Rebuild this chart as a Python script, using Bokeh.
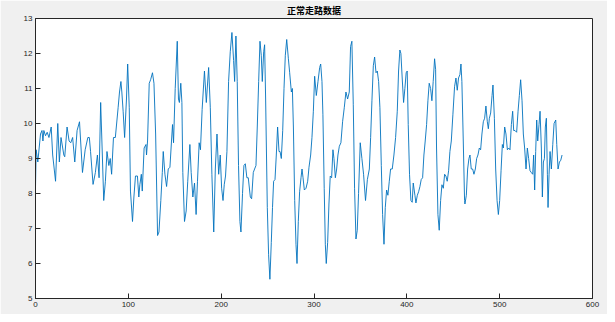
from bokeh.plotting import figure
from bokeh.models import Range1d, FixedTicker
from bokeh.embed import file_html
from bokeh.resources import INLINE

title_text = "正常走路数据"
x_ticks = [0, 100, 200, 300, 400, 500, 600]
y_ticks = [5, 6, 7, 8, 9, 10, 11, 12, 13]

sample_x = [
    0, 0.7, 2.5, 5.4, 7, 8, 9, 10.8, 12.6, 14.5, 16.9, 18.5, 21.6, 24, 25.7, 27.5, 30.5, 31.5, 34, 36.2,
    38, 40, 42.3, 44.8, 47.4, 50.6, 53.5, 56.4, 58, 59.3, 62, 64.5, 66.7, 68.5, 70.2, 72, 73.5, 75.3, 77, 79,
    80.5, 82, 84, 86, 89, 90.5, 92, 93, 94.4, 96, 98, 99.3, 101, 102.3, 104.5, 106, 107.7, 109.8, 111.3, 112.4,
    114, 115, 117, 119, 119.6, 120.7, 122.5, 124, 126, 127.6, 129.4, 131.5, 133, 135, 136.6, 137.6, 139.4, 141.2, 143, 144.8,
    146.5, 147.6, 148.7, 150.5, 152.7, 154, 155, 156.5, 157.7, 158.7, 160.5, 162.3, 164, 166.3, 167.7, 169.5, 171.3, 173, 174.5, 176.3,
    177.7, 179.5, 182, 184, 186.5, 188.3, 190, 192, 193.7, 195.5, 197.3, 199, 200.5, 202, 203.3, 204.7, 206.2, 208, 209.8, 211.6,
    213.4, 214.5, 215.9, 217.3, 218.7, 220.2, 221.3, 223, 224.5, 226, 227.7, 229.2, 231.4, 232.8, 234.6, 236, 237.5, 238.9, 240.4, 241.8,
    243.2, 244.3, 245.8, 246.8, 247.9, 249.7, 251.1, 252.5, 254, 255.3, 256.5, 258, 259.4, 260.8, 262.3, 263.4, 264.8, 266.3, 267.7, 269.1,
    270.6, 272.4, 273.8, 275.6, 276.7, 277.8, 279.2, 280.6, 281.7, 283.1, 284.5, 286, 287.1, 288.2, 289.6, 291.4, 293.2, 294.6, 296.4, 297.8,
    299.3, 300.7, 302.5, 304.3, 306.1, 307.2, 308.6, 309.6, 311, 312.2, 313.2, 314.7, 316.1, 317.5, 319, 320.4, 321.5, 323, 324.4, 325.8,
    327.3, 329, 330.8, 332.6, 334.4, 336.2, 338, 339.4, 340.8, 342.3, 343.7, 345.2, 346.6, 348, 349.8, 351.6, 353.4, 355.5, 357.5, 359.6,
    361, 362.4, 363.9, 365.3, 366.8, 368.2, 369.6, 371, 372.5, 373.9, 375.4, 376.8, 378.2, 379.6, 381.1, 382.5, 384.3, 386.1, 387.9, 389.7,
    391.1, 392.5, 393.6, 395, 396.5, 397.9, 399.3, 400.4, 401.5, 402.9, 404.4, 405.8, 406.9, 408.7, 409.8, 411.3, 412.7, 414.1, 415.5, 417,
    418.4, 419.8, 421.3, 422.7, 424.1, 425.6, 427, 428.4, 429.9, 431, 432, 433.5, 434.9, 436.4, 437.8, 439.3, 440.7, 442.1, 443.5, 445,
    446.4, 447.9, 449.6, 451.4, 452.9, 454.3, 455.7, 457.2, 458.3, 459.3, 460.8, 462.2, 462.6, 464.1, 465.5, 466.9, 468, 469.4, 470.9, 472.3,
    473.8, 475.2, 476.6, 478.1, 479.5, 480.9, 482.4, 483.8, 485.2, 486.7, 487.8, 488.9, 490.3, 491.8, 492.8, 494.3, 495.7, 497.2, 498.6, 500,
    501.5, 502.9, 504, 505.4, 506.8, 508.3, 509.7, 511.1, 512.6, 514, 515.1, 516.5, 518.3, 519.8, 521.2, 522.6, 524.1, 525.5, 526.9, 528.4,
    529.8, 531.2, 532.7, 534.1, 535.6, 536.6, 537.7, 538.8, 539.9, 541, 542.4, 543.5, 544.9, 546, 547.1, 548.2, 549.2, 550.3, 551.4, 552.1,
    553.2, 554.3, 555.7, 557.2, 558.6, 560.4, 561.5, 562.9, 564.4, 565.8, 567.2,
]
sample_y = [
    8.2, 9.25, 8.9, 9.7, 9.8, 9.5, 9.8, 9.65, 9.75, 9.6, 9.9, 9.1, 8.35, 10.0, 8.9, 9.6, 9.1, 9.05, 9.9, 9.5,
    9.45, 9.6, 8.9, 9.8, 10.05, 8.6, 9.25, 9.6, 9.6, 9.2, 8.26, 8.6, 9.1, 8.45, 10.6, 9.1, 7.8, 8.35, 9.2, 8.8,
    9.0, 8.55, 9.6, 9.6, 10.45, 10.9, 11.2, 10.9, 10.35, 9.6, 10.7, 11.7, 10.45, 8.07, 7.2, 7.9, 8.5, 8.5, 7.9, 8.25,
    8.55, 8.07, 9.3, 9.4, 9.1, 9.5, 11.15, 11.25, 11.45, 11.15, 9.7, 6.8, 6.9, 7.8, 8.6, 9.2, 8.55, 8.2, 8.7, 8.75,
    9.5, 9.97, 9.45, 11.0, 12.35, 10.7, 10.6, 11.15, 10.6, 8.6, 7.2, 7.5, 8.35, 9.4, 8.6, 7.9, 8.3, 7.4, 8.35, 9.45,
    9.25, 10.4, 11.5, 10.6, 11.6, 10.45, 8.55, 6.9, 8.7, 9.7, 8.55, 9.1, 8.15, 7.8, 8.25, 8.5, 9.2, 11.2, 12.05, 12.6,
    11.8, 11.2, 12.5, 11.2, 8.8, 7.2, 6.9, 8.0, 8.8, 8.85, 8.45, 8.45, 7.9, 7.85, 8.6, 8.7, 8.8, 9.9, 11.2, 12.35,
    11.95, 11.2, 12.05, 12.25, 10.7, 7.6, 6.25, 5.55, 6.6, 7.6, 8.35, 8.4, 9.1, 9.9, 9.2, 9.2, 9.0, 9.8, 11.0, 11.95,
    12.4, 11.85, 11.45, 10.9, 11.0, 9.9, 7.8, 6.55, 6.0, 7.2, 8.05, 8.45, 8.7, 8.45, 8.1, 8.15, 8.35, 8.75, 9.1, 9.6,
    10.35, 11.35, 10.8, 11.2, 11.6, 11.7, 11.2, 10.25, 8.15, 6.55, 6.0, 6.6, 7.7, 8.5, 8.45, 9.25, 9.0, 8.45, 8.7, 9.1,
    9.35, 9.45, 10.05, 10.45, 10.9, 10.7, 10.9, 12.2, 12.35, 10.55, 8.15, 6.7, 6.95, 8.0, 9.45, 9.0, 8.55, 7.8, 8.4, 8.7,
    9.6, 10.65, 11.65, 11.9, 11.45, 11.5, 11.2, 10.45, 8.8, 7.4, 6.55, 7.6, 8.1, 7.95, 8.35, 8.7, 8.7, 9.1, 9.6, 10.35,
    11.5, 12.1, 12.0, 11.3, 10.6, 11.0, 11.45, 11.5, 9.97, 8.55, 7.8, 7.75, 8.3, 7.95, 7.73, 7.95, 8.05, 8.2, 8.4, 8.45,
    9.1, 9.5, 9.97, 10.65, 11.15, 11.0, 10.65, 11.2, 11.85, 11.55, 9.3, 7.4, 6.95, 7.8, 8.25, 8.15, 8.55, 8.5, 8.35, 8.65,
    9.2, 9.5, 10.25, 11.05, 11.3, 10.95, 11.3, 11.4, 11.7, 11.2, 9.5, 7.8, 7.7, 7.95, 8.7, 9.0, 9.1, 8.7, 8.7, 8.55,
    8.7, 9.0, 9.1, 9.3, 9.25, 9.7, 10.05, 10.15, 10.5, 10.05, 9.85, 10.15, 10.3, 10.8, 11.1, 10.15, 8.7, 7.8, 7.4, 7.8,
    8.65, 9.4, 9.3, 9.9, 9.7, 9.25, 9.3, 9.25, 9.97, 10.35, 9.8, 9.8, 9.75, 10.35, 10.8, 11.25, 10.65, 9.7, 9.3, 8.7,
    9.3, 9.0, 8.65, 8.6, 8.55, 9.1, 8.1, 9.2, 10.1, 9.5, 9.97, 10.35, 9.3, 7.9, 8.9, 9.0, 9.9, 10.15, 8.55, 7.6,
    8.55, 9.2, 8.7, 9.4, 10.0, 10.1, 9.4, 8.7, 8.9, 8.95, 9.1,
]

AX = "#262626"

p = figure(width=607, height=314, x_range=Range1d(0, 600), y_range=Range1d(5, 13),
           output_backend="svg", toolbar_location=None, title=title_text,
           min_border_left=35, min_border_right=15, min_border_top=18, min_border_bottom=16)
p.title.align = "center"
p.title.text_font = "Noto Sans CJK SC"
p.title.text_font_size = "9px"
p.title.text_font_style = "bold"
p.title.text_color = "black"
p.title.standoff = 3
p.title.offset = 0

p.border_fill_color = "#f0f0f0"
p.background_fill_color = "white"
p.outline_line_color = AX
p.outline_line_width = 1
p.grid.visible = False

p.xaxis.ticker = FixedTicker(ticks=x_ticks)
p.yaxis.ticker = FixedTicker(ticks=y_ticks)
for ax in (p.xaxis, p.yaxis):
    ax.axis_line_color = AX
    ax.major_tick_line_color = AX
    ax.major_tick_in = 5
    ax.major_tick_out = 0
    ax.minor_tick_in = 0
    ax.minor_tick_out = 0
    ax.major_label_text_font = "Liberation Sans"
    ax.major_label_text_font_size = "8px"
    ax.major_label_text_color = AX
    ax.major_label_standoff = 3

p.line(sample_x, sample_y, line_color="#0072BD", line_width=0.9)

open("out.html", "w").write(file_html(p, INLINE))
